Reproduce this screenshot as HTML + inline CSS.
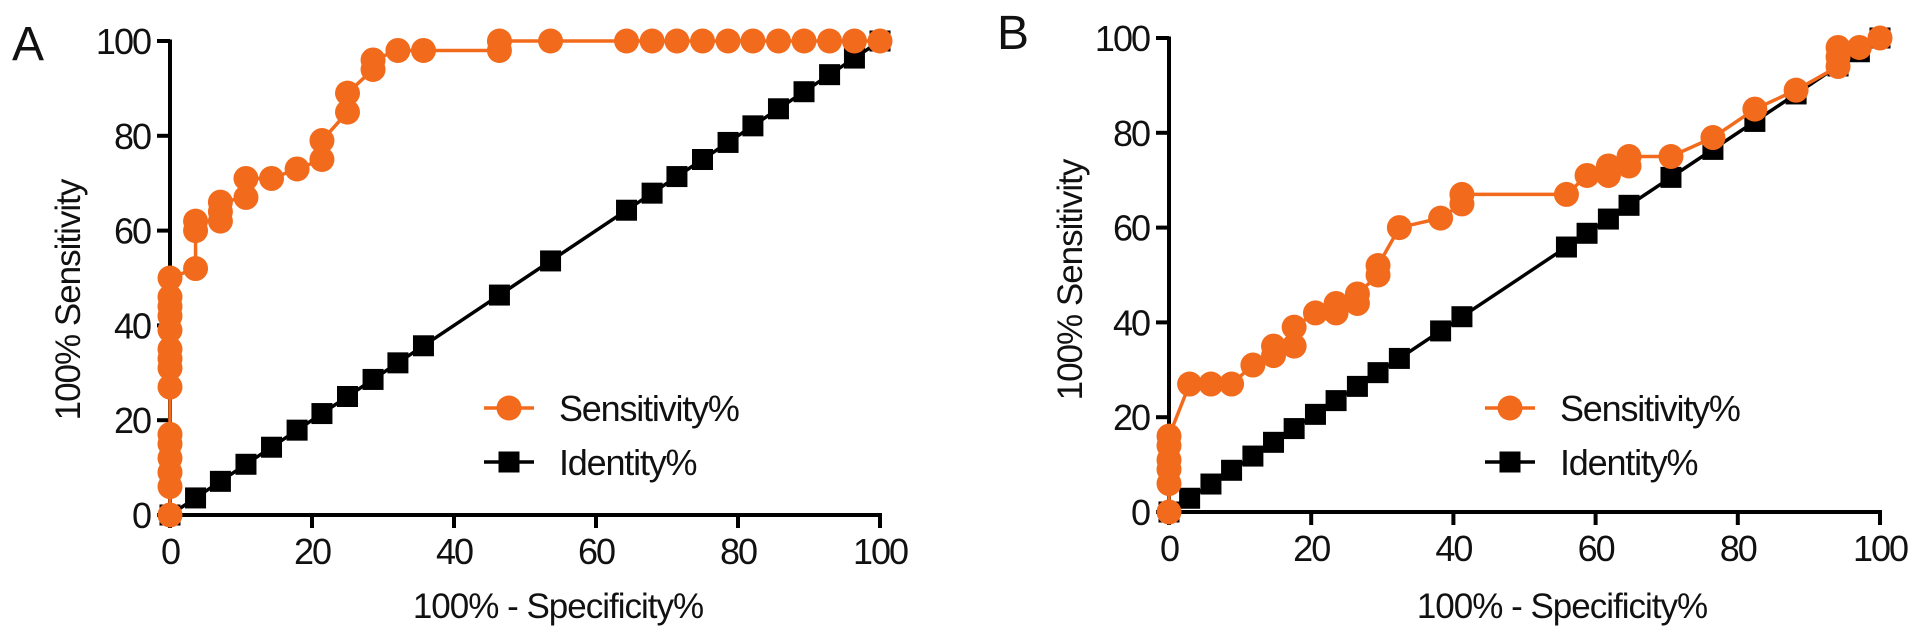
<!DOCTYPE html>
<html><head><meta charset="utf-8"><style>
html,body{margin:0;padding:0;background:#fff;}
svg{display:block;font-family:"Liberation Sans",Arial,sans-serif;}
</style></head><body>
<svg id="fig" width="1913" height="634" viewBox="0 0 1913 634"></svg>
<script>
// Panel A data
const aSensX = [0,0,0,0,0,0,0,0,0,0,0,0,0,0,0,3.6,3.6,3.6,7.1,7.1,7.1,10.7,10.7,14.3,17.9,21.4,21.4,25,25,28.6,28.6,32.1,35.7,46.4,46.4,53.6,64.3,67.9,71.4,75,78.6,82.1,85.7,89.3,92.9,96.4,100];
const aSensY = [0,6,9,12,15,17,27,31,33,35,39,42,44,46,50,52,60,62,62,64,66,67,71,71,73,75,79,85,89,94,96,98,98,98,100,100,100,100,100,100,100,100,100,100,100,100,100];
const aIdentX = [0,3.6,7.1,10.7,14.3,17.9,21.4,25,28.6,32.1,35.7,46.4,53.6,64.3,67.9,71.4,75,78.6,82.1,85.7,89.3,92.9,96.4,100];
const aIdentY = [0,3.6,7.1,10.7,14.3,17.9,21.4,25,28.6,32.1,35.7,46.4,53.6,64.3,67.9,71.4,75,78.6,82.1,85.7,89.3,92.9,96.4,100];
// Panel B data
const bSensX = [0,0,0,0,0,0,2.9,5.9,8.8,11.8,14.7,14.7,17.6,17.6,20.6,23.5,23.5,26.5,26.5,29.4,29.4,32.4,38.2,41.2,41.2,55.9,58.8,61.8,61.8,64.7,64.7,70.6,76.5,82.4,88.2,94.1,94.1,94.1,97.1,100];
const bSensY = [0,6,9,11,14,16,27,27,27,31,33,35,35,39,42,42,44,44,46,50,52,60,62,65,67,67,71,71,73,73,75,75,79,85,89,94,96,98,98,100];
const bIdentX = [0,2.9,5.9,8.8,11.8,14.7,17.6,20.6,23.5,26.5,29.4,32.4,38.2,41.2,55.9,58.8,61.8,64.7,70.6,76.5,82.4,88.2,94.1,97.1,100];
const bIdentY = [0,2.9,5.9,8.8,11.8,14.7,17.6,20.6,23.5,26.5,29.4,32.4,38.2,41.2,55.9,58.8,61.8,64.7,70.6,76.5,82.4,88.2,94.1,97.1,100];
const tickVals = [0,20,40,60,80,100];
const tickLabels = ["0","20","40","60","80","100"];

const NS = "http://www.w3.org/2000/svg";
const svg = document.getElementById("fig");
const ORANGE = "#f26a1c";
function mk(tag, attrs, parent){
  const e = document.createElementNS(NS, tag);
  for (const k in attrs) e.setAttribute(k, attrs[k]);
  (parent||svg).appendChild(e);
  return e;
}
function panel(p){
  const g = mk("g", {});
  
  
  const sx = v => p.x0 + (p.x1 - p.x0) * v / 100;
  const sy = v => p.y0 - (p.y0 - p.y1) * v / 100;
  const lbl = mk("text", {x:p.lx, y:p.ly, "font-size":48, fill:"#111"}, g);
  lbl.textContent = p.id.toUpperCase();
  
  
  const ya = mk("line", {x1:p.x0, y1:p.y0, x2:p.x0, y2:p.y1-1.5, stroke:"#000","stroke-width":4}, g);
  
  
  const xa = mk("line", {x1:p.x0, y1:p.y0, x2:p.x1+2, y2:p.y0, stroke:"#000","stroke-width":4}, g);
  
  
  tickVals.forEach((v,i)=>{
    mk("line",{x1:p.x0-13,y1:sy(v),x2:p.x0,y2:sy(v),stroke:"#000","stroke-width":4},g);
    const t = mk("text",{x:p.x0-20,y:sy(v)+13,"font-size":36,"letter-spacing":-2,"text-anchor":"end",fill:"#111"},g);
    t.textContent = tickLabels[i];
    
    
    mk("line",{x1:sx(v),y1:p.y0,x2:sx(v),y2:p.y0+13,stroke:"#000","stroke-width":4},g);
    const t2 = mk("text",{x:sx(v),y:p.y0+49,"font-size":36,"letter-spacing":-2,"text-anchor":"middle",fill:"#111"},g);
    t2.textContent = tickLabels[i];
    
    
  });
  const xt = mk("text",{x:p.xtx,y:618,"font-size":35,"letter-spacing":-1,"text-anchor":"middle",fill:"#111"},g);
  xt.textContent = "100% - Specificity%";
  
  
  const yt = mk("text",{x:0,y:0,"font-size":35,"letter-spacing":-1,"text-anchor":"middle",fill:"#111",transform:`translate(${p.ytx},${p.yty}) rotate(-90)`},g);
  yt.textContent = "100% Sensitivity";
  
  
  const ip = mk("polyline",{points:p.ix.map((x,i)=>sx(x)+","+sy(p.iy[i])).join(" "),fill:"none",stroke:"#000","stroke-width":3.5},g);
  
  
  p.ix.forEach((x,i)=>{
    const r = mk("rect",{x:sx(x)-10.5,y:sy(p.iy[i])-10.5,width:21,height:21,fill:"#000"},g);
    
    
  });
  const sp = mk("polyline",{points:p.sxv.map((x,i)=>sx(x)+","+sy(p.syv[i])).join(" "),fill:"none",stroke:ORANGE,"stroke-width":3.5},g);
  
  
  p.sxv.forEach((x,i)=>{
    const c = mk("circle",{cx:sx(x),cy:sy(p.syv[i]),r:12.5,fill:ORANGE},g);
    
    
  });
  const lg = mk("g",{},g);
  
  
  const mx = p.lgx;
  mk("line",{x1:mx-25,y1:408,x2:mx+25,y2:408,stroke:ORANGE,"stroke-width":3.5},lg);
  mk("circle",{cx:mx,cy:408,r:12.5,fill:ORANGE},lg);
  const l1 = mk("text",{x:mx+50,y:421,"font-size":36,"letter-spacing":-1.2,fill:"#111"},lg);
  l1.textContent = "Sensitivity%";
  
  
  mk("line",{x1:mx-25,y1:462,x2:mx+25,y2:462,stroke:"#000","stroke-width":3.5},lg);
  mk("rect",{x:mx-10.5,y:451.5,width:21,height:21,fill:"#000"},lg);
  const l2 = mk("text",{x:mx+50,y:475,"font-size":36,"letter-spacing":-1.2,fill:"#111"},lg);
  l2.textContent = "Identity%";
  
  
}
panel({id:"a",x0:170,x1:880,y0:515,y1:41,lx:12,ly:60,xtx:558,ytx:80,yty:300,lgx:509,
  sxv:aSensX,syv:aSensY,ix:aIdentX,iy:aIdentY});
panel({id:"b",x0:1169,x1:1880,y0:512,y1:38,lx:997,ly:49,xtx:1562,ytx:1082,yty:280,lgx:1510,
  sxv:bSensX,syv:bSensY,ix:bIdentX,iy:bIdentY});
</script>
</body></html>
